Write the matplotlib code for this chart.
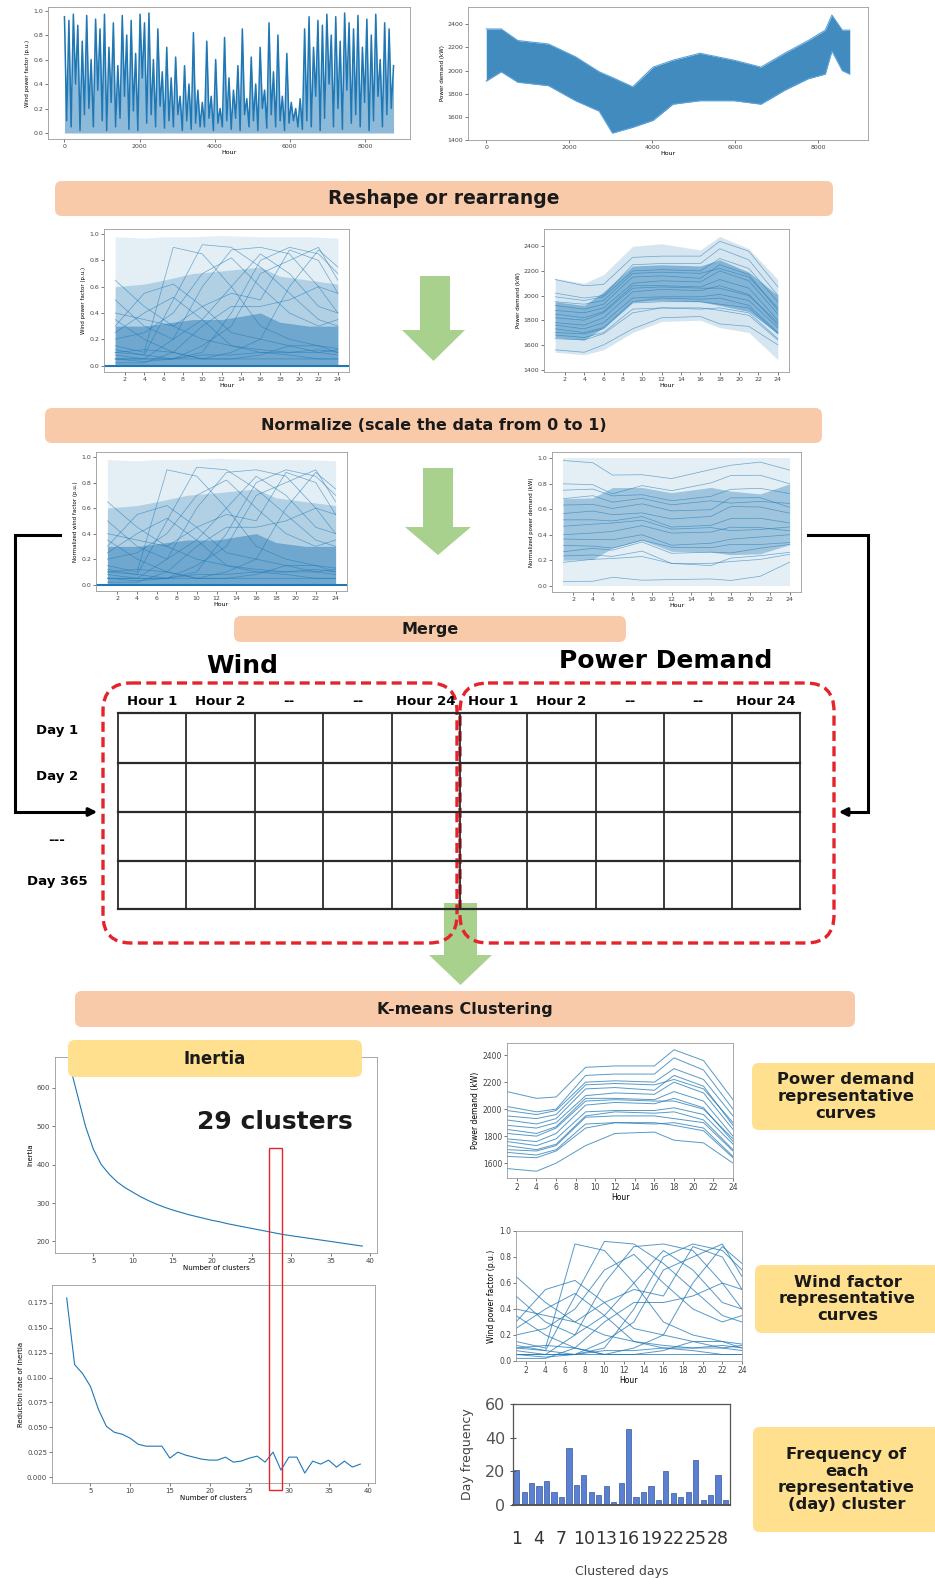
import matplotlib
matplotlib.use('Agg')
import matplotlib.pyplot as plt
import matplotlib.patches as mpatches
import numpy as np

# ---- data ----
wind_year = [
    0.95, 0.10, 0.92, 0.05, 0.97, 0.40, 0.88, 0.02, 0.75, 0.15,
    0.96, 0.20, 0.60, 0.05, 0.93, 0.35, 0.85, 0.10, 0.97, 0.02,
    0.70, 0.25, 0.90, 0.05, 0.55, 0.12, 0.96, 0.30, 0.80, 0.03,
    0.92, 0.18, 0.65, 0.02, 0.97, 0.45, 0.90, 0.08, 0.98, 0.15,
    0.60, 0.05, 0.85, 0.22, 0.50, 0.04, 0.70, 0.10,
    0.45, 0.05, 0.62, 0.15, 0.30, 0.02, 0.55, 0.10, 0.40, 0.03,
    0.82, 0.08, 0.35, 0.05, 0.25,
    0.05, 0.75, 0.12, 0.30, 0.02, 0.60, 0.08, 0.20, 0.05, 0.78,
    0.10, 0.45, 0.03, 0.35, 0.12, 0.55, 0.02, 0.85, 0.15, 0.28,
    0.05, 0.62, 0.10, 0.40, 0.02, 0.70, 0.20, 0.35, 0.04, 0.90,
    0.15, 0.50, 0.05, 0.80, 0.10, 0.30, 0.02, 0.65, 0.08, 0.25,
    0.10, 0.20, 0.05, 0.28, 0.03,
    0.85, 0.10, 0.95, 0.05, 0.70, 0.30, 0.92, 0.02, 0.88, 0.12,
    0.97, 0.40, 0.80, 0.05, 0.95, 0.20, 0.75, 0.03, 0.98, 0.35,
    0.90, 0.08, 0.85, 0.15, 0.96, 0.05, 0.70, 0.25, 0.93, 0.02,
    0.80, 0.10, 0.97, 0.30, 0.60, 0.05, 0.90, 0.15, 0.85, 0.20, 0.55,
]

pd_year_hours = [0, 360, 760, 1500, 2150, 2720, 3040, 3530, 4020, 4500,
                 5150, 5970, 6620, 7190, 7760, 8170, 8330, 8580, 8760]
pd_year_hi = [2360, 2360, 2260, 2230, 2120, 1990, 1940, 1860, 2030, 2090,
              2150, 2090, 2030, 2150, 2260, 2350, 2480, 2350, 2350]
pd_year_lo = [1910, 1990, 1900, 1870, 1740, 1650, 1460, 1510, 1570, 1710,
              1740, 1740, 1710, 1830, 1930, 1970, 2170, 2000, 1970]

# daily envelopes (hours of day)
day_hours = [1, 4, 6, 9, 12, 16, 18, 21, 24]
pd_day_max = [2140, 2100, 2170, 2400, 2420, 2370, 2480, 2380, 2130]
pd_day_min = [1540, 1520, 1560, 1700, 1790, 1800, 1740, 1700, 1480]
pd_day_hi = [1950, 1920, 2030, 2240, 2250, 2240, 2290, 2190, 2000]
pd_day_lo = [1660, 1640, 1740, 1950, 1960, 1950, 1920, 1870, 1690]

wind_day_max = [0.98, 0.97, 0.98, 0.98, 0.99, 0.98, 0.98, 0.98, 0.97]
wind_day_mid = [0.60, 0.62, 0.65, 0.70, 0.72, 0.75, 0.68, 0.65, 0.62]
wind_day_dense = [0.30, 0.30, 0.32, 0.35, 0.35, 0.40, 0.33, 0.30, 0.30]

# representative (cluster centre) curves
pd_rep = [
    [2130, 2080, 2090, 2310, 2320, 2320, 2440, 2360, 2070],
    [2020, 1980, 2000, 2250, 2260, 2260, 2380, 2290, 2000],
    [1990, 1960, 1990, 2200, 2210, 2200, 2300, 2220, 1950],
    [1950, 1930, 1960, 2180, 2190, 2180, 2220, 2150, 1900],
    [1920, 1890, 1930, 2150, 2160, 2140, 2250, 2170, 1880],
    [1880, 1860, 1900, 2100, 2120, 2110, 2200, 2120, 1850],
    [1850, 1820, 1870, 2080, 2080, 2070, 2130, 2060, 1800],
    [1820, 1800, 1860, 2060, 2070, 2060, 2060, 2000, 1780],
    [1780, 1760, 1820, 2030, 2050, 2040, 2080, 2010, 1760],
    [1760, 1730, 1780, 1980, 1990, 1990, 2010, 1960, 1740],
    [1730, 1700, 1740, 1950, 1980, 1970, 1980, 1920, 1700],
    [1700, 1690, 1730, 1940, 1950, 1950, 1930, 1900, 1690],
    [1680, 1660, 1700, 1890, 1900, 1890, 1900, 1860, 1650],
    [1650, 1640, 1690, 1860, 1900, 1900, 1880, 1840, 1640],
    [1560, 1540, 1600, 1730, 1820, 1830, 1770, 1750, 1600],
]
wind_hours = [1, 4, 7, 10, 13, 16, 19, 22, 24]
wind_rep = [
    [0.65, 0.45, 0.30, 0.20, 0.15, 0.12, 0.10, 0.10, 0.12],
    [0.10, 0.08, 0.50, 0.92, 0.90, 0.75, 0.55, 0.35, 0.30],
    [0.05, 0.05, 0.20, 0.60, 0.88, 0.90, 0.85, 0.60, 0.40],
    [0.30, 0.55, 0.62, 0.45, 0.25, 0.20, 0.15, 0.10, 0.08],
    [0.05, 0.05, 0.05, 0.10, 0.40, 0.80, 0.90, 0.85, 0.70],
    [0.40, 0.35, 0.30, 0.45, 0.55, 0.50, 0.88, 0.80, 0.55],
    [0.08, 0.05, 0.05, 0.05, 0.10, 0.20, 0.60, 0.88, 0.75],
    [0.15, 0.10, 0.90, 0.85, 0.60, 0.30, 0.20, 0.15, 0.10],
    [0.05, 0.03, 0.05, 0.08, 0.08, 0.10, 0.10, 0.12, 0.10],
    [0.10, 0.12, 0.10, 0.05, 0.05, 0.08, 0.15, 0.15, 0.13],
    [0.50, 0.30, 0.20, 0.35, 0.60, 0.85, 0.70, 0.45, 0.40],
    [0.20, 0.25, 0.40, 0.70, 0.82, 0.60, 0.40, 0.30, 0.35],
    [0.35, 0.20, 0.10, 0.05, 0.05, 0.05, 0.05, 0.05, 0.05],
    [0.02, 0.02, 0.10, 0.30, 0.45, 0.45, 0.50, 0.60, 0.55],
    [0.12, 0.08, 0.05, 0.15, 0.30, 0.70, 0.80, 0.90, 0.65],
    [0.25, 0.40, 0.52, 0.35, 0.15, 0.10, 0.08, 0.05, 0.05],
]

clusters_k = list(range(2, 40))
inertia = [660, 580, 500, 440, 400, 375, 355, 340, 328, 316, 306, 297, 289,
           282, 276, 270, 265, 260, 255, 251, 246, 242, 238, 234, 230, 226,
           222, 218, 215, 212, 209, 206, 203, 200, 197, 194, 191, 188]
reduction_rate = [0.180, 0.113, 0.104, 0.091, 0.068, 0.051, 0.045, 0.043,
                  0.039, 0.033, 0.031, 0.031, 0.031, 0.019, 0.025, 0.022,
                  0.020, 0.018, 0.017, 0.017, 0.020, 0.015, 0.016, 0.019,
                  0.021, 0.015, 0.025, 0.007, 0.020, 0.020, 0.004, 0.016,
                  0.013, 0.017, 0.010, 0.016, 0.010, 0.013]

cluster_ids = list(range(1, 30))
day_frequency = [21, 8, 13, 11, 14, 8, 5, 34, 12, 18, 8, 6, 11, 2, 13, 45,
                 5, 8, 11, 3, 20, 7, 5, 8, 27, 3, 6, 18, 3]

hour_headers = ['Hour 1', 'Hour 2', '--', '--', 'Hour 24']
day_labels = ['Day 1', 'Day 2', '---', 'Day 365']

# ---- figure ----
W, H = 935, 1578
fig = plt.figure(figsize=(W / 100, H / 100), dpi=100)
fig.patch.set_facecolor('white')

BLUE = '#1f77b4'
PEACH = '#f8caa9'
YELLOW = '#ffe08e'
GREEN = '#a9d18e'
RED = '#e4232b'


def add_px(x0, y0, x1, y1):
    return fig.add_axes([x0 / W, 1 - y1 / H, (x1 - x0) / W, (y1 - y0) / H])


def small_style(ax, fs=4.5):
    ax.tick_params(labelsize=fs, length=2, width=0.5, pad=1.5, colors='#444444')
    for s in ax.spines.values():
        s.set_color('#9a9a9a')
        s.set_linewidth(0.6)


# top row: yearly series
ax = add_px(48, 7, 410, 139)
hrs = np.linspace(0, 8760, len(wind_year))
ax.fill_between(hrs, 0, wind_year, color=BLUE, alpha=0.5, lw=0)
ax.plot(hrs, wind_year, color=BLUE, lw=1.1)
ax.set_xticks([0, 2000, 4000, 6000, 8000])
ax.set_yticks([0, 0.2, 0.4, 0.6, 0.8, 1.0])
ax.set_xlabel('Hour', fontsize=4.5, labelpad=1)
ax.set_ylabel('Wind power factor (p.u.)', fontsize=4, labelpad=2)
small_style(ax)

ax = add_px(468, 7, 868, 140)
ax.fill_between(pd_year_hours, pd_year_lo, pd_year_hi, color=BLUE, alpha=0.85, lw=0)
ax.plot(pd_year_hours, pd_year_hi, color='#5aa2d8', lw=0.8)
ax.plot(pd_year_hours, pd_year_lo, color='#5aa2d8', lw=0.8)
ax.set_ylim(1400, 2550)
ax.set_xlim(-440, 9200)
ax.set_xticks([0, 2000, 4000, 6000, 8000])
ax.set_yticks([1400, 1600, 1800, 2000, 2200, 2400])
ax.set_xlabel('Hour', fontsize=4.5, labelpad=1)
ax.set_ylabel('Power demand (kW)', fontsize=4, labelpad=2)
small_style(ax)


def wind_daily(ax, ylabel):
    ax.fill_between(day_hours, 0, wind_day_max, color=BLUE, alpha=0.12, lw=0)
    ax.fill_between(day_hours, 0, wind_day_mid, color=BLUE, alpha=0.25, lw=0)
    ax.fill_between(day_hours, 0, wind_day_dense, color=BLUE, alpha=0.45, lw=0)
    for c in wind_rep:
        ax.plot(wind_hours, c, color=BLUE, lw=0.5, alpha=0.6)
    ax.axhline(0, color=BLUE, lw=1.5)
    ax.set_xticks(range(2, 25, 2))
    ax.set_yticks([0, 0.2, 0.4, 0.6, 0.8, 1.0])
    ax.set_xlabel('Hour', fontsize=4.5, labelpad=1)
    ax.set_ylabel(ylabel, fontsize=4, labelpad=2)
    small_style(ax)


ax = add_px(104, 229, 349, 372)
wind_daily(ax, 'Wind power factor (p.u.)')

ax = add_px(544, 229, 789, 372)
ax.fill_between(day_hours, pd_day_min, pd_day_max, color=BLUE, alpha=0.18, lw=0)
ax.fill_between(day_hours, pd_day_lo, pd_day_hi, color=BLUE, alpha=0.45, lw=0)
for c in pd_rep:
    ax.plot(day_hours, c, color=BLUE, lw=0.5, alpha=0.6)
ax.set_ylim(1380, 2540)
ax.set_xticks(range(2, 25, 2))
ax.set_yticks([1400, 1600, 1800, 2000, 2200, 2400])
ax.set_xlabel('Hour', fontsize=4.5, labelpad=1)
ax.set_ylabel('Power demand (kW)', fontsize=4, labelpad=2)
small_style(ax)

# normalised (per hour min-max scaling)
ax = add_px(96, 452, 347, 591)
wind_daily(ax, 'Normalized wind factor (p.u.)')

ax = add_px(552, 452, 801, 592)
pmin = np.array(pd_day_min, float)
pspan = np.array(pd_day_max, float) - pmin
ax.fill_between(day_hours, 0, 1, color=BLUE, alpha=0.12, lw=0)
ax.fill_between(day_hours, (np.array(pd_day_lo) - pmin) / pspan,
                (np.array(pd_day_hi) - pmin) / pspan, color=BLUE, alpha=0.35, lw=0)
for c in pd_rep:
    ax.plot(day_hours, (np.array(c) - pmin) / pspan, color=BLUE, lw=0.5, alpha=0.6)
ax.set_xticks(range(2, 25, 2))
ax.set_yticks([0, 0.2, 0.4, 0.6, 0.8, 1.0])
ax.set_xlabel('Hour', fontsize=4.5, labelpad=1)
ax.set_ylabel('Normalized power demand (kW)', fontsize=4, labelpad=2)
small_style(ax)

# elbow plots
ax = add_px(55, 1057, 377, 1253)
ax.plot(clusters_k, inertia, color=BLUE, lw=0.8)
ax.set_ylim(170, 680)
ax.set_xticks([5, 10, 15, 20, 25, 30, 35, 40])
ax.set_yticks([200, 300, 400, 500, 600])
ax.set_ylabel('Inertia', fontsize=5, labelpad=2)
ax.set_xlabel('Number of clusters', fontsize=5, labelpad=1)
small_style(ax, 5)

ax = add_px(52, 1285, 375, 1483)
ax.plot(clusters_k, reduction_rate, color=BLUE, lw=0.8)
ax.set_ylim(-0.006, 0.193)
ax.set_xticks([5, 10, 15, 20, 25, 30, 35, 40])
ax.set_yticks([0, 0.025, 0.05, 0.075, 0.1, 0.125, 0.15, 0.175])
ax.set_yticklabels([f'{v:.3f}' for v in [0, 0.025, 0.05, 0.075, 0.1, 0.125, 0.15, 0.175]])
ax.set_ylabel('Reduction rate of inertia', fontsize=5, labelpad=2)
ax.set_xlabel('Number of clusters', fontsize=5, labelpad=1)
small_style(ax, 5)

# representative curves
ax = add_px(507, 1043, 733, 1178)
for c in pd_rep:
    ax.plot(day_hours, c, color=BLUE, lw=0.7, alpha=0.75)
ax.set_xlim(1, 24)
ax.set_ylim(1490, 2490)
ax.set_xticks(range(2, 25, 2))
ax.set_yticks([1600, 1800, 2000, 2200, 2400])
ax.set_xlabel('Hour', fontsize=5.5, labelpad=1)
ax.set_ylabel('Power demand (kW)', fontsize=5.5, labelpad=2)
small_style(ax, 5.5)

ax = add_px(516, 1231, 742, 1361)
for c in wind_rep:
    ax.plot(wind_hours, c, color=BLUE, lw=0.7, alpha=0.75)
ax.set_xlim(1, 24)
ax.set_ylim(0, 1)
ax.set_xticks(range(2, 25, 2))
ax.set_yticks([0, 0.2, 0.4, 0.6, 0.8, 1.0])
ax.set_xlabel('Hour', fontsize=5.5, labelpad=1)
ax.set_ylabel('Wind power factor (p.u.)', fontsize=5.5, labelpad=2)
small_style(ax, 5.5)

# frequency bars
ax = add_px(513, 1404, 730, 1505)
ax.bar(cluster_ids, day_frequency, width=0.7, color='#5b80d2', edgecolor='#34559f', lw=0.5)
ax.set_xlim(0.5, 29.6)
ax.set_ylim(0, 60)
ax.set_yticks([0, 20, 40, 60])
ax.set_xticks(list(range(1, 30, 3)))
ax.tick_params(axis='y', labelsize=11.5, colors='#555555', length=4, direction='inout')
ax.tick_params(axis='x', labelsize=12.5, colors='#333333', length=0, pad=18)
for s in ax.spines.values():
    s.set_color('#555555')
    s.set_linewidth(0.9)
ax.spines['bottom'].set_linewidth(1.4)
ax.set_ylabel('Day frequency', fontsize=9, color='#444444', labelpad=8)
ax.set_xlabel('Clustered days', fontsize=9, color='#444444', labelpad=12)

# ---- overlay: banners, arrows, table ----
ov = fig.add_axes([0, 0, 1, 1], zorder=10)
ov.set_xlim(0, W)
ov.set_ylim(H, 0)
ov.axis('off')
ov.patch.set_visible(False)


def banner(x0, y0, x1, y1, text, color, fs):
    ov.add_patch(mpatches.FancyBboxPatch((x0, y0), x1 - x0, y1 - y0,
                                         boxstyle='round,pad=0,rounding_size=7',
                                         fc=color, ec='none'))
    ov.text((x0 + x1) / 2, (y0 + y1) / 2, text, ha='center', va='center',
            fontsize=fs, fontweight='bold', color='#1a1a1a', linespacing=1.15)


def down_arrow(x0, x1, sx0, sx1, y0, yh, y1):
    pts = [(sx0, y0), (sx1, y0), (sx1, yh), (x1, yh), ((x0 + x1) / 2, y1),
           (x0, yh), (sx0, yh)]
    ov.add_patch(mpatches.Polygon(pts, closed=True, fc=GREEN, ec='none'))


banner(55, 181, 833, 216, 'Reshape or rearrange', PEACH, 13.5)
banner(45, 408, 822, 443, 'Normalize (scale the data from 0 to 1)', PEACH, 11.5)
banner(234, 616, 626, 642, 'Merge', PEACH, 11.5)
banner(75, 991, 855, 1027, 'K-means Clustering', PEACH, 11.5)
banner(68, 1040, 362, 1077, 'Inertia', YELLOW, 12)
banner(752, 1063, 940, 1130, 'Power demand\nrepresentative\ncurves', YELLOW, 11.8)
banner(755, 1265, 940, 1333, 'Wind factor\nrepresentative\ncurves', YELLOW, 11.8)
banner(753, 1427, 940, 1532, 'Frequency of\neach\nrepresentative\n(day) cluster', YELLOW, 11.8)

down_arrow(402, 465, 420, 450, 276, 330, 361)
down_arrow(405, 471, 423, 453, 468, 527, 555)
down_arrow(429, 492, 444, 477, 903, 955, 985)

# connectors into the merged table
ov.plot([60, 15, 15, 90], [535, 535, 812, 812], color='black', lw=2.2,
        solid_joinstyle='miter')
ov.annotate('', xy=(100, 812), xytext=(85, 812),
            arrowprops=dict(arrowstyle='-|>', color='black', lw=2.2, mutation_scale=12))
ov.plot([808, 868, 868, 845], [535, 535, 812, 812], color='black', lw=2.2,
        solid_joinstyle='miter')
ov.annotate('', xy=(836, 812), xytext=(850, 812),
            arrowprops=dict(arrowstyle='-|>', color='black', lw=2.2, mutation_scale=12))

ov.text(242, 666, 'Wind', ha='center', va='center', fontsize=18, fontweight='bold')
ov.text(666, 661, 'Power Demand', ha='center', va='center', fontsize=18,
        fontweight='bold')

col_x = [118, 186, 255, 323, 392, 460, 527, 596, 664, 732, 800]
row_y = [713, 763, 812, 861, 909]
for x in col_x:
    ov.plot([x, x], [row_y[0], row_y[-1]], color='#2b2b2b', lw=1.3)
for y in row_y:
    ov.plot([col_x[0], col_x[-1]], [y, y], color='#2b2b2b', lw=1.6)
for i, lab in enumerate(hour_headers + hour_headers):
    ov.text((col_x[i] + col_x[i + 1]) / 2, 701, lab, ha='center', va='center',
            fontsize=9.5, fontweight='bold')
for y, lab in zip([730, 776, 840, 881], day_labels):
    ov.text(57, y, lab, ha='center', va='center', fontsize=9.5, fontweight='bold')

for x0, x1 in [(103, 457), (460, 834)]:
    ov.add_patch(mpatches.FancyBboxPatch((x0, 683), x1 - x0, 260,
                                         boxstyle='round,pad=0,rounding_size=28',
                                         fill=False, ec=RED, lw=2.4,
                                         linestyle=(0, (3, 1.6))))

# chosen cluster count
ov.text(275, 1122, '29 clusters', ha='center', va='center', fontsize=18,
        fontweight='bold', color='#1a1a1a')
ov.add_patch(mpatches.Rectangle((269, 1148), 13, 342, fill=False, ec=RED, lw=1))

fig.savefig('out.png', dpi=100, facecolor='white')
